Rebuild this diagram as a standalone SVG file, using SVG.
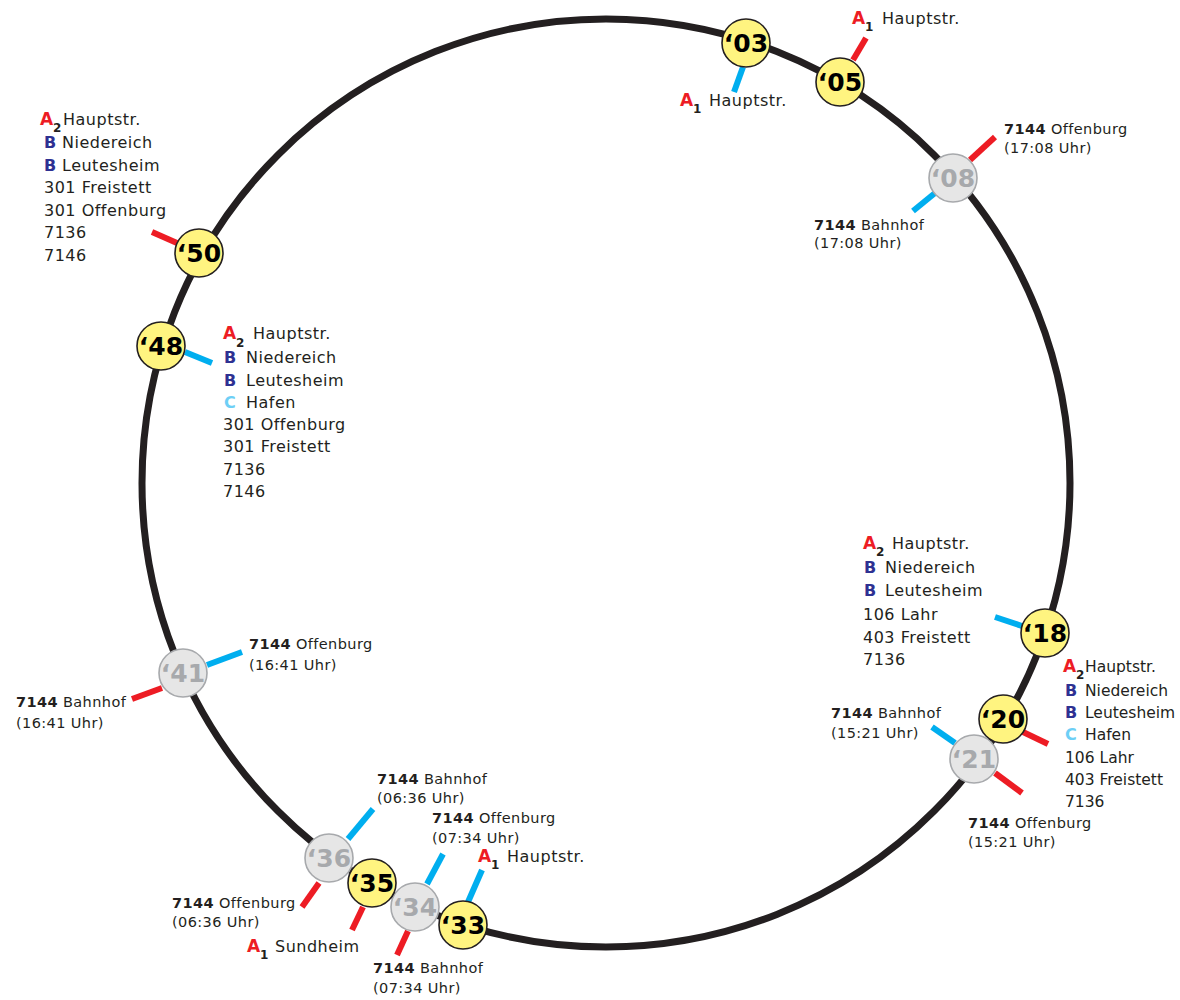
<svg xmlns="http://www.w3.org/2000/svg" width="1180" height="1000" viewBox="0 0 1180 1000">
<style>
.ring{fill:none;stroke:#231f20;stroke-width:7}
.stub{stroke-width:6;stroke-linecap:butt}
.r{stroke:#ed1c24}.b{stroke:#00aeef}
.ny{fill:#fff480;stroke:#231f20;stroke-width:1.6}
.ng{fill:#e6e6e6;stroke:#a7a9ac;stroke-width:1.6}
.ty{font-family:"DejaVu Sans",sans-serif;font-weight:bold;font-size:25px;fill:#000;text-anchor:middle}
.tg{font-family:"DejaVu Sans",sans-serif;font-weight:bold;font-size:25px;fill:#a7a9ac;text-anchor:middle}
.L{font-family:"DejaVu Sans",sans-serif;font-size:16px;letter-spacing:0.5px;fill:#231f20}
.L2{font-family:"DejaVu Sans",sans-serif;font-size:15.5px;letter-spacing:0px;fill:#231f20}
.S{font-family:"DejaVu Sans",sans-serif;font-size:14.5px;letter-spacing:0.4px;fill:#231f20}
.bd{font-weight:bold}
.A{font-family:"DejaVu Sans",sans-serif;font-weight:bold;font-size:17px;fill:#ed1c24}
.sub{font-family:"DejaVu Sans",sans-serif;font-weight:bold;font-size:12px;fill:#231f20}
.B{font-family:"DejaVu Sans",sans-serif;font-weight:bold;font-size:16px;fill:#2e3192}
.C{font-family:"DejaVu Sans",sans-serif;font-weight:bold;font-size:16px;fill:#6dcff6}
</style>
<circle class="ring" cx="606" cy="483" r="464"/>
<g id="connectors">
<line class="stub b" x1="743" y1="67" x2="734" y2="92"/>
<line class="stub r" x1="853" y1="60" x2="866" y2="38"/>
<line class="stub r" x1="970" y1="160" x2="995" y2="137"/>
<line class="stub b" x1="935" y1="193" x2="913" y2="211"/>
<line class="stub r" x1="177" y1="243" x2="152" y2="232"/>
<line class="stub b" x1="185" y1="352" x2="212" y2="363"/>
<line class="stub b" x1="207" y1="665" x2="242" y2="652"/>
<line class="stub r" x1="162" y1="688" x2="132" y2="699"/>
<line class="stub b" x1="348" y1="839" x2="373" y2="809"/>
<line class="stub r" x1="319" y1="883" x2="302" y2="907"/>
<line class="stub r" x1="363" y1="907" x2="352" y2="930"/>
<line class="stub b" x1="427" y1="884" x2="443" y2="854"/>
<line class="stub r" x1="408" y1="931" x2="397" y2="955"/>
<line class="stub b" x1="468" y1="902" x2="482" y2="870"/>
<line class="stub b" x1="1022" y1="626" x2="995" y2="617"/>
<line class="stub r" x1="1023" y1="732" x2="1048" y2="744"/>
<line class="stub b" x1="955" y1="743" x2="932" y2="727"/>
<line class="stub r" x1="995" y1="773" x2="1022" y2="793"/>
</g>
<g id="n08"><circle class="ng" cx="953" cy="178" r="24"/><text class="tg" x="953" y="187">‘08</text></g>
<g id="n41"><circle class="ng" cx="183" cy="673" r="24"/><text class="tg" x="183" y="682">‘41</text></g>
<g id="n36"><circle class="ng" cx="329" cy="858" r="24"/><text class="tg" x="329" y="867">‘36</text></g>
<g id="n34"><circle class="ng" cx="415" cy="907" r="24"/><text class="tg" x="415" y="916">‘34</text></g>
<g id="n21"><circle class="ng" cx="974" cy="759" r="24"/><text class="tg" x="974" y="768">‘21</text></g>
<g id="n03"><circle class="ny" cx="746" cy="43" r="24"/><text class="ty" x="746" y="52">‘03</text></g>
<g id="n05"><circle class="ny" cx="840" cy="82" r="24"/><text class="ty" x="840" y="91">‘05</text></g>
<g id="n50"><circle class="ny" cx="199" cy="253" r="24"/><text class="ty" x="199" y="262">‘50</text></g>
<g id="n48"><circle class="ny" cx="161" cy="346" r="24"/><text class="ty" x="161" y="355">‘48</text></g>
<g id="n35"><circle class="ny" cx="372" cy="883" r="24"/><text class="ty" x="372" y="892">‘35</text></g>
<g id="n33"><circle class="ny" cx="463" cy="925" r="24"/><text class="ty" x="463" y="934">‘33</text></g>
<g id="n18"><circle class="ny" cx="1045" cy="633" r="24"/><text class="ty" x="1045" y="642">‘18</text></g>
<g id="n20"><circle class="ny" cx="1003" cy="719" r="24"/><text class="ty" x="1003" y="728">‘20</text></g>

<g id="labels">
<text class="A" x="680" y="106">A</text><text class="sub" x="693" y="113">1</text><text class="L" x="709" y="106">Hauptstr.</text>
<text class="A" x="852" y="24">A</text><text class="sub" x="865" y="31">1</text><text class="L" x="882" y="24">Hauptstr.</text>
<text class="S" x="1004" y="134"><tspan class="bd">7144</tspan> Offenburg</text>
<text class="S" x="1004" y="153">(17:08 Uhr)</text>
<text class="S" x="814" y="230"><tspan class="bd">7144</tspan> Bahnhof</text>
<text class="S" x="814" y="248">(17:08 Uhr)</text>
<text class="A" x="40" y="125">A</text><text class="sub" x="53" y="132">2</text><text class="L" x="63" y="125">Hauptstr.</text>
<text class="B" x="44" y="148">B</text><text class="L" x="62" y="148">Niedereich</text>
<text class="B" x="44" y="171">B</text><text class="L" x="62" y="171">Leutesheim</text>
<text class="L" x="44" y="193">301 Freistett</text>
<text class="L" x="44" y="216">301 Offenburg</text>
<text class="L" x="44" y="238">7136</text>
<text class="L" x="44" y="261">7146</text>
<text class="A" x="223" y="339">A</text><text class="sub" x="236" y="347">2</text><text class="L" x="253" y="339">Hauptstr.</text>
<text class="B" x="224" y="363">B</text><text class="L" x="246" y="363">Niedereich</text>
<text class="B" x="224" y="386">B</text><text class="L" x="246" y="386">Leutesheim</text>
<text class="C" x="224" y="408">C</text><text class="L" x="246" y="408">Hafen</text>
<text class="L" x="223" y="430">301 Offenburg</text>
<text class="L" x="223" y="452">301 Freistett</text>
<text class="L" x="223" y="475">7136</text>
<text class="L" x="223" y="497">7146</text>
<text class="A" x="863" y="549">A</text><text class="sub" x="876" y="556">2</text><text class="L" x="892" y="549">Hauptstr.</text>
<text class="B" x="864" y="573">B</text><text class="L" x="885" y="573">Niedereich</text>
<text class="B" x="864" y="596">B</text><text class="L" x="885" y="596">Leutesheim</text>
<text class="L" x="863" y="620">106 Lahr</text>
<text class="L" x="863" y="643">403 Freistett</text>
<text class="L" x="863" y="665">7136</text>
<text class="A" x="1063" y="672">A</text><text class="sub" x="1076" y="679">2</text><text class="L2" x="1085" y="672">Hauptstr.</text>
<text class="B" x="1065" y="696">B</text><text class="L2" x="1085" y="696">Niedereich</text>
<text class="B" x="1065" y="718">B</text><text class="L2" x="1085" y="718">Leutesheim</text>
<text class="C" x="1065" y="740">C</text><text class="L2" x="1085" y="740">Hafen</text>
<text class="L2" x="1065" y="763">106 Lahr</text>
<text class="L2" x="1065" y="785">403 Freistett</text>
<text class="L2" x="1065" y="807">7136</text>
<text class="S" x="831" y="718"><tspan class="bd">7144</tspan> Bahnhof</text>
<text class="S" x="831" y="738">(15:21 Uhr)</text>
<text class="S" x="968" y="828"><tspan class="bd">7144</tspan> Offenburg</text>
<text class="S" x="968" y="847">(15:21 Uhr)</text>
<text class="S" x="249" y="649"><tspan class="bd">7144</tspan> Offenburg</text>
<text class="S" x="249" y="670">(16:41 Uhr)</text>
<text class="S" x="16" y="707"><tspan class="bd">7144</tspan> Bahnhof</text>
<text class="S" x="16" y="728">(16:41 Uhr)</text>
<text class="S" x="377" y="784"><tspan class="bd">7144</tspan> Bahnhof</text>
<text class="S" x="377" y="803">(06:36 Uhr)</text>
<text class="S" x="172" y="908"><tspan class="bd">7144</tspan> Offenburg</text>
<text class="S" x="172" y="927">(06:36 Uhr)</text>
<text class="S" x="432" y="823"><tspan class="bd">7144</tspan> Offenburg</text>
<text class="S" x="432" y="843">(07:34 Uhr)</text>
<text class="S" x="373" y="973"><tspan class="bd">7144</tspan> Bahnhof</text>
<text class="S" x="373" y="993">(07:34 Uhr)</text>
<text class="A" x="478" y="862">A</text><text class="sub" x="491" y="869">1</text><text class="L" x="507" y="862">Hauptstr.</text>
<text class="A" x="247" y="952">A</text><text class="sub" x="260" y="959">1</text><text class="L" x="275" y="952">Sundheim</text>
</g>
</svg>
